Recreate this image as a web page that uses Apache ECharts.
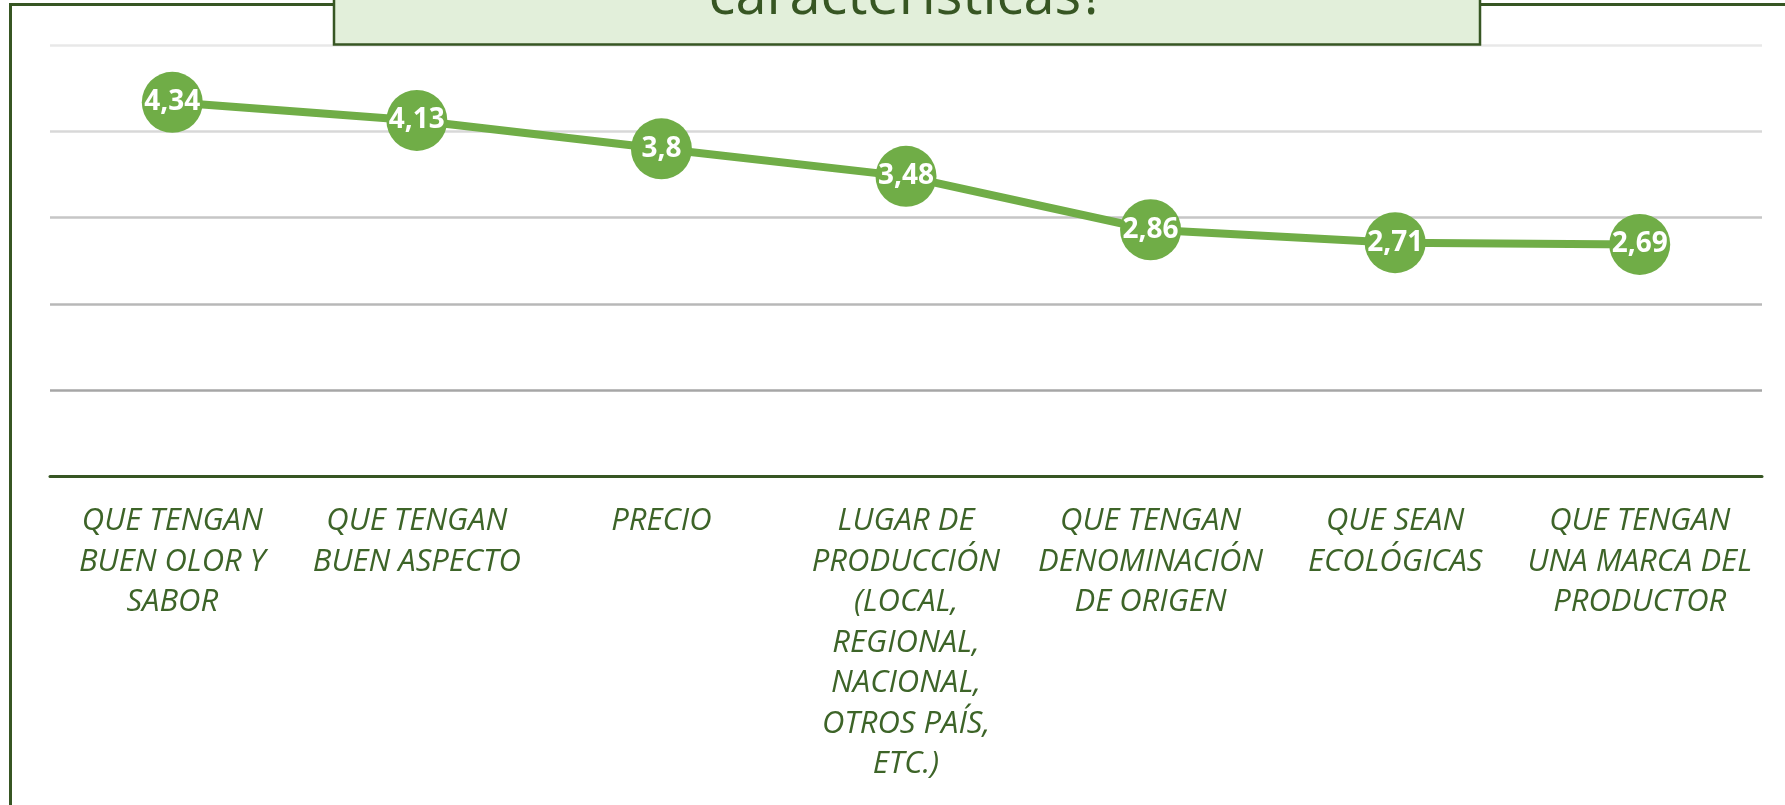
<!DOCTYPE html>
<html>
<head>
<meta charset="utf-8">
<script src="https://cdn.jsdelivr.net/npm/echarts@6/dist/echarts.min.js"></script>
<style>
  html, body { margin: 0; padding: 0; background: #ffffff; }
  #chart { width: 1785px; height: 805px; }
</style>
</head>
<body>
<div id="chart"></div>
<script>
// categorias (con los saltos de linea del original)
var categorias = [
  'QUE TENGAN\nBUEN OLOR Y\nSABOR',
  'QUE TENGAN\nBUEN ASPECTO',
  'PRECIO',
  'LUGAR DE\nPRODUCCIÓN\n(LOCAL,\nREGIONAL,\nNACIONAL,\nOTROS PAÍS,\nETC.)',
  'QUE TENGAN\nDENOMINACIÓN\nDE ORIGEN',
  'QUE SEAN\nECOLÓGICAS',
  'QUE TENGAN\nUNA MARCA DEL\nPRODUCTOR'
];
var valores = [4.34, 4.13, 3.8, 3.48, 2.86, 2.71, 2.69];
var titulo = 'características?';

var verde = '#70ad47';
var verdeOscuro = '#375623';

var myChart = echarts.init(document.getElementById('chart'));
myChart.setOption({
  animation: false,
  backgroundColor: '#ffffff',
  grid: {
    left: 50,
    right: 23,
    top: 45.5,
    bottom: 329
  },
  xAxis: {
    type: 'category',
    data: categorias,
    boundaryGap: true,
    axisLine: { show: true, lineStyle: { color: verdeOscuro, width: 3 } },
    axisTick: { show: false },
    axisLabel: {
      interval: 0,
      margin: 25,
      color: '#3d6428',
      fontFamily: 'Open Sans',
      fontStyle: 'italic',
      fontSize: 31,
      lineHeight: 40.5,
      align: 'center'
    }
  },
  yAxis: {
    type: 'value',
    min: 0,
    max: 5,
    interval: 1,
    axisLine: { show: false },
    axisTick: { show: false },
    axisLabel: { show: false },
    splitLine: {
      lineStyle: {
        width: 2.5,
        color: ['#a0a0a0', '#a6a6a6', '#b8b8b8', '#c6c6c6', '#d8d8d8', '#e8e8e8']
      }
    }
  },
  series: [{
    type: 'line',
    data: valores,
    symbol: 'circle',
    symbolSize: 61,
    itemStyle: { color: verde },
    lineStyle: { color: verde, width: 8 },
    label: {
      show: true,
      position: 'inside',
      color: '#ffffff',
      fontFamily: 'Open Sans',
      fontWeight: 'bold',
      fontSize: 28,
      formatter: function (p) {
        return String(p.value).replace('.', ',');
      }
    }
  }],
  graphic: [
    {
      type: 'rect',
      z: 0,
      silent: true,
      shape: { x: 10.5, y: 4.5, width: 1850, height: 900 },
      style: { fill: 'none', stroke: verdeOscuro, lineWidth: 3 }
    },
    {
      type: 'rect',
      z: 10,
      silent: true,
      shape: { x: 334, y: -20, width: 1146, height: 64.5 },
      style: { fill: '#e2efda', stroke: verdeOscuro, lineWidth: 2.5 }
    },
    {
      type: 'text',
      z: 11,
      silent: true,
      x: 907,
      y: -2,
      style: {
        text: titulo,
        fill: verdeOscuro,
        font: '56px "Open Sans"',
        align: 'center',
        verticalAlign: 'middle'
      }
    }
  ]
});
window.addEventListener('resize', function () {
  myChart.resize();
});
</script>
</body>
</html>
